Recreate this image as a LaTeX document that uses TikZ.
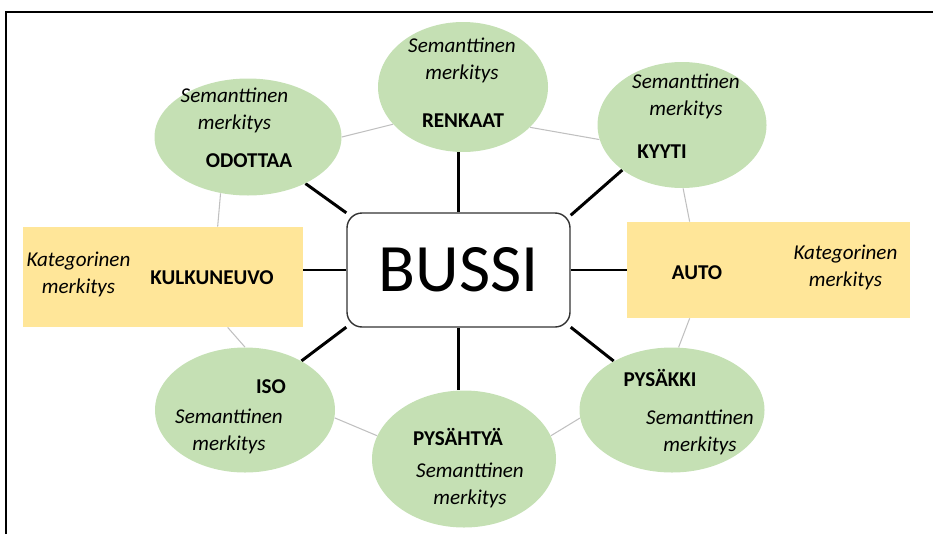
\documentclass[tikz,border=0pt]{standalone}
\usepackage{fontspec}
\setmainfont{Carlito}
\usepackage{tikz}
\usetikzlibrary{shapes.geometric,backgrounds,calc}
\definecolor{vihrea}{HTML}{C5E0B4}
\definecolor{keltainen}{HTML}{FFE699}
\definecolor{harmaa}{HTML}{C0C0C0}

\begin{document}
\begin{tikzpicture}[
  sana/.style={ellipse,fill=vihrea,inner sep=0pt},
  luokka/.style={rectangle,fill=keltainen,inner sep=0pt},
  selite/.style={font=\fontsize{12}{15.3}\selectfont\itshape,align=center,inner sep=0pt},
  otsikko/.style={font=\fontsize{12}{14}\selectfont\bfseries,inner sep=0pt},
  yhteys/.style={black,line width=1.7pt},
  rengas/.style={harmaa,line width=0.6pt}
]
\useasboundingbox (0cm,0cm) rectangle (18.66cm,-10.68cm);
\draw[black,line width=1.1pt] (0.12cm,-10.68cm) -- (0.12cm,-0.24cm) -- (18.66cm,-0.24cm);

\node[rectangle,rounded corners=0.3cm,draw=black!80,line width=0.8pt,fill=white,minimum width=4.46cm,minimum height=2.28cm,font=\fontsize{38.6}{46}\selectfont] (bussi) at (9.17cm,-5.4cm) {BUSSI\hspace{0.24cm}};

\node[sana,minimum width=3.4cm,minimum height=2.6cm] (renkaat) at (9.26cm,-1.74cm) {};
\node[sana,minimum width=3.74cm,minimum height=2.34cm] (odottaa) at (4.96cm,-2.74cm) {};
\node[sana,minimum width=3.38cm,minimum height=2.52cm] (kyyti) at (13.64cm,-2.5cm) {};
\node[sana,minimum width=3.6cm,minimum height=2.5cm] (iso) at (4.9cm,-8.2cm) {};
\node[sana,minimum width=3.7cm,minimum height=2.5cm] (pysakki) at (13.44cm,-8.2cm) {};
\node[sana,minimum width=3.68cm,minimum height=2.74cm] (pysahtya) at (9.28cm,-9.18cm) {};
\node[luokka,minimum width=5.6cm,minimum height=2cm] (kulkuneuvo) at (3.26cm,-5.54cm) {};
\node[luokka,minimum width=5.66cm,minimum height=1.92cm] (auto) at (15.37cm,-5.4cm) {};

\node[selite] (renkaat-s) at (9.24cm,-1.21cm) {Semanttinen\\merkitys};
\node[otsikko] (renkaat-o) at (9.26cm,-2.42cm) {RENKAAT};
\node[selite] (odottaa-s) at (4.69cm,-2.21cm) {Semanttinen\\merkitys};
\node[otsikko] (odottaa-o) at (4.98cm,-3.22cm) {ODOTTAA};
\node[selite] (kyyti-s) at (13.72cm,-1.93cm) {Semanttinen\\merkitys};
\node[otsikko] (kyyti-o) at (13.24cm,-3.04cm) {KYYTI};
\node[otsikko] (iso-o) at (5.42cm,-7.74cm) {ISO};
\node[selite] (iso-s) at (4.58cm,-8.63cm) {Semanttinen\\merkitys};
\node[otsikko] (pysakki-o) at (13.2cm,-7.56cm) {PYSÄKKI};
\node[selite] (pysakki-s) at (14cm,-8.65cm) {Semanttinen\\merkitys};
\node[otsikko] (pysahtya-o) at (9.16cm,-8.74cm) {PYSÄHTYÄ};
\node[selite] (pysahtya-s) at (9.4cm,-9.71cm) {Semanttinen\\merkitys};
\node[selite] (kulkuneuvo-s) at (1.57cm,-5.49cm) {Kategorinen\\merkitys};
\node[otsikko] (kulkuneuvo-o) at (4.24cm,-5.56cm) {KULKUNEUVO};
\node[otsikko] (auto-o) at (13.94cm,-5.46cm) {AUTO};
\node[selite] (auto-s) at (16.91cm,-5.35cm) {Kategorinen\\merkitys};

\begin{scope}[on background layer]
\draw[yhteys] (bussi.north) -- (bussi.north |- renkaat.south);
\draw[yhteys] (bussi.153) -- (odottaa.321);
\draw[yhteys] (bussi.26) -- (kyyti.217);
\draw[yhteys] (bussi.west) -- (bussi.west -| kulkuneuvo.east);
\draw[yhteys] (bussi.east) -- (auto.west);
\draw[yhteys] (bussi.207) -- (iso.41);
\draw[yhteys] (bussi.south) -- (bussi.south |- pysahtya.north);
\draw[yhteys] (bussi.333) -- (pysakki.140);

\draw[rengas] (odottaa.0) -- (renkaat.208);
\draw[rengas] (renkaat.329) -- (kyyti.190);
\draw[rengas] (kyyti.271) -- ($(auto.north west)+(1.26cm,0)$);
\draw[rengas] ($(auto.south west)+(1.26cm,0)$) -- (pysakki.84);
\draw[rengas] (pysakki.185) -- (pysahtya.15);
\draw[rengas] (pysahtya.165) -- (iso.355);
\draw[rengas] ($(kulkuneuvo.south west)+(4.1cm,0)$) -- (iso.90);
\draw[rengas] ($(kulkuneuvo.north west)+(3.9cm,0)$) -- (odottaa.244);
\end{scope}
\end{tikzpicture}
\end{document}
